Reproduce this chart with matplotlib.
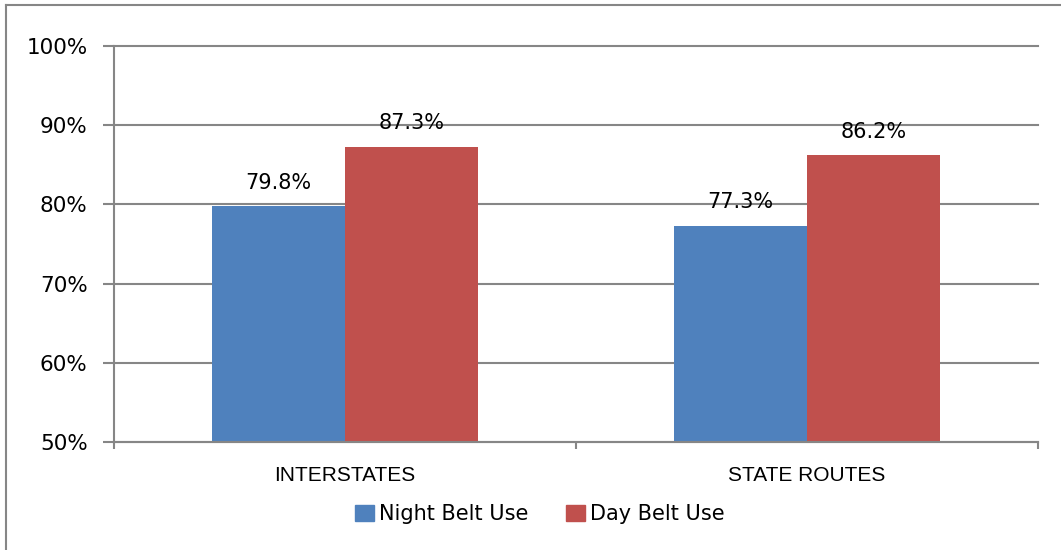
import matplotlib
matplotlib.use("Agg")
import matplotlib.pyplot as plt
from matplotlib.lines import Line2D
from matplotlib.patches import Patch
import numpy as np

categories = ["INTERSTATES", "STATE ROUTES"]
night_use = [79.8, 77.3]
day_use = [87.3, 86.2]
yticks = [50, 60, 70, 80, 90, 100]

BLUE = "#4F81BD"
RED = "#C0504D"
GRID = "#868686"

W, H = 1061, 550
fig = plt.figure(figsize=(W / 100, H / 100), dpi=100)
ax = fig.add_axes([114 / W, 1 - 442 / H, (1038 - 114) / W, (442 - 46) / H])

x = np.arange(len(categories))
bw = 0.287
ax.bar(x - bw / 2, night_use, bw, color=BLUE)
ax.bar(x + bw / 2, day_use, bw, color=RED)

for xi, v in zip(x - bw / 2, night_use):
    ax.text(xi, v + 1.7, f"{v:.1f}%", ha="center", va="bottom", fontsize=15,
            family="DejaVu Sans")
for xi, v in zip(x + bw / 2, day_use):
    ax.text(xi, v + 1.7, f"{v:.1f}%", ha="center", va="bottom", fontsize=15,
            family="DejaVu Sans")

ax.set_ylim(50, 100)
ax.set_xlim(-0.5, 1.5)
ax.set_yticks(yticks)
ax.set_yticklabels([f"{t}%" for t in yticks], fontsize=15.5, family="DejaVu Sans")
ax.yaxis.grid(True, color=GRID, lw=1.5)
ax.set_axisbelow(True)
ax.tick_params(axis="y", length=8, width=1.5, color=GRID, pad=11)
for gl in ax.get_ygridlines():
    gl.set_clip_on(False)

# category labels, with ticks at group boundaries
ax.set_xticks(x)
ax.set_xticklabels(categories, fontsize=15, family="Liberation Sans")
ax.tick_params(axis="x", length=0, pad=17)
ax.set_xticks([-0.5, 0.5, 1.5], minor=True)
ax.tick_params(axis="x", which="minor", length=5, width=1.5, color=GRID)

for s in ["top", "right"]:
    ax.spines[s].set_visible(False)
for s in ["left", "bottom"]:
    ax.spines[s].set_color(GRID)
    ax.spines[s].set_linewidth(1.5)

handles = [Patch(color=BLUE, label="Night Belt Use"), Patch(color=RED, label="Day Belt Use")]
fig.legend(handles=handles, loc="center", bbox_to_anchor=(540 / W, 1 - 514 / H), ncol=2,
           frameon=False, prop={"family": "DejaVu Sans", "size": 15},
           handlelength=0.9, handleheight=0.82, handletextpad=0.25, columnspacing=1.8)

# outer chart border (left and top edges visible)
fig.add_artist(Line2D([6 / W, 6 / W], [0, 1 - 5 / H], color=GRID, lw=1.5))
fig.add_artist(Line2D([6 / W, 1], [1 - 5 / H, 1 - 5 / H], color=GRID, lw=1.5))

fig.savefig("out.png", dpi=100)
